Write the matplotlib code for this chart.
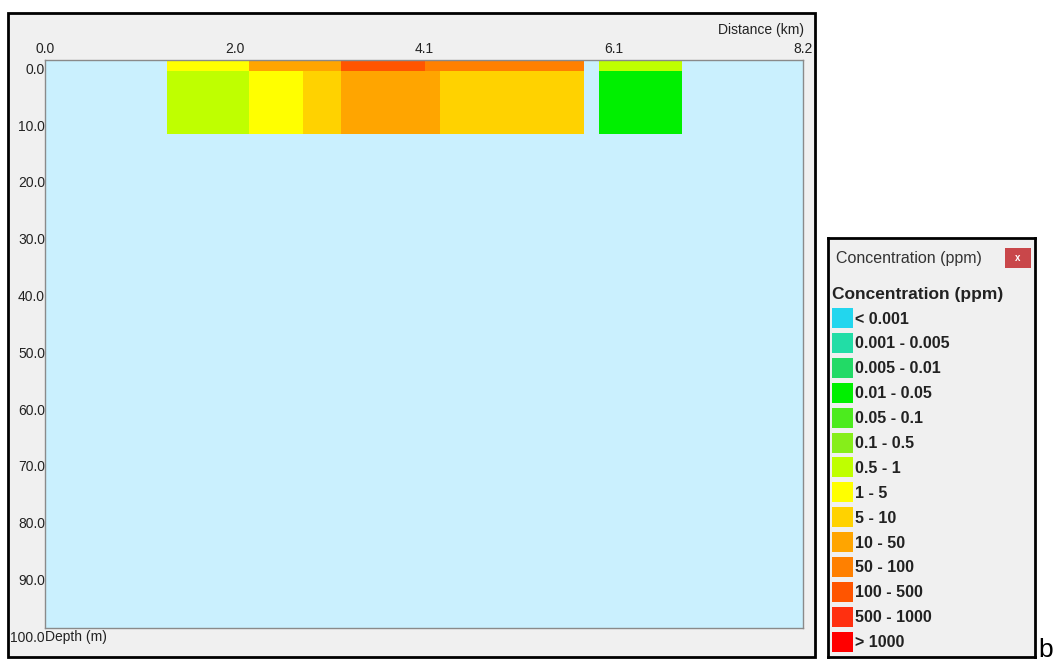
import matplotlib.pyplot as plt
from matplotlib.patches import Rectangle
import matplotlib.transforms as mtransforms

W, H = 1054, 662

# concentration classes (ppm) and colours
classes = ['< 0.001', '0.001 - 0.005', '0.005 - 0.01', '0.01 - 0.05',
           '0.05 - 0.1', '0.1 - 0.5', '0.5 - 1', '1 - 5', '5 - 10',
           '10 - 50', '50 - 100', '100 - 500', '500 - 1000', '> 1000']
class_colors = ['#22D6EE', '#22DDA6', '#22DA66', '#00F000', '#4CEB1E',
                '#86EE1A', '#BFFF00', '#FFFF00', '#FFD200', '#FFA500',
                '#FF8000', '#FF5500', '#FF3010', '#FF0000']

# plume cells: distance (km), depth (m), class index
cell_x0 = [1.32, 2.21, 3.20, 4.11, 5.99, 1.32, 2.21, 2.79, 3.20, 4.27, 5.99]
cell_x1 = [2.21, 3.20, 4.11, 5.83, 6.89, 2.21, 2.79, 3.20, 4.27, 5.83, 6.89]
cell_z0 = [0, 0, 0, 0, 0, 2, 2, 2, 2, 2, 2]
cell_z1 = [2, 2, 2, 2, 2, 13, 13, 13, 13, 13, 13]
cell_cls = [7, 9, 11, 10, 6, 6, 7, 8, 9, 8, 3]

dist_ticks = [0.0, 2.05, 4.1, 6.15, 8.2]
dist_labels = ['0.0', '2.0', '4.1', '6.1', '8.2']
depth_ticks = [0, 10, 20, 30, 40, 50, 60, 70, 80, 90, 100]

FONT = ['Liberation Sans', 'DejaVu Sans']


def px_rect(x0, y0, x1, y1):
    return [x0 / W, 1 - y1 / H, (x1 - x0) / W, (y1 - y0) / H]


def main():
    plt.close('all')
    plt.rcParams['font.family'] = FONT
    fig = plt.figure(figsize=(W / 100, H / 100), dpi=100)
    fig.patch.set_facecolor('white')

    # window frame around the section
    fig.patches.append(Rectangle((8 / W, 1 - 657 / H), 807 / W, 644 / H,
                                 transform=fig.transFigure, facecolor='#F0F0F0',
                                 edgecolor='black', lw=2, zorder=-5))

    ax = fig.add_axes(px_rect(45, 60, 803, 628))
    ax.set_zorder(2)
    ax.set_facecolor('#CAF0FE')
    widths = [b - a for a, b in zip(cell_x0, cell_x1)]
    heights = [b - a for a, b in zip(cell_z0, cell_z1)]
    ax.bar(cell_x0, heights, width=widths, bottom=cell_z0, align='edge',
           color=[class_colors[c] for c in cell_cls], lw=0)
    ax.set_xlim(0, 8.2)
    ax.set_ylim(100, 0)
    ax.xaxis.tick_top()
    ax.set_xticks(dist_ticks)
    ax.set_xticklabels(dist_labels)
    ax.set_yticks(depth_ticks)
    ax.set_yticklabels(['{:.1f}'.format(d) for d in depth_ticks])
    ax.tick_params(axis='x', length=0, pad=3, labelsize=10, colors='#222222')
    ax.tick_params(axis='y', length=0, pad=0, labelsize=10, colors='#222222')
    shift = mtransforms.ScaledTranslation(0, -2 / 72, fig.dpi_scale_trans)
    for lab in ax.get_yticklabels():
        lab.set_va('top')
        lab.set_transform(lab.get_transform() + shift)
    for sp in ax.spines.values():
        sp.set_color('#8A8A8A')
        sp.set_linewidth(1)

    fig.text(804 / W, 1 - 30 / H, 'Distance (km)', ha='right', va='center',
             fontsize=10, color='#222222')
    fig.text(45 / W, 1 - 637 / H, 'Depth (m)', ha='left', va='center',
             fontsize=10, color='#222222')

    # legend panel
    lg = fig.add_axes(px_rect(828, 238, 1035, 657))
    lg.set_zorder(2)
    lg.set_facecolor('#F0F0F0')
    lg.set_xlim(828, 1035)
    lg.set_ylim(657, 238)
    lg.set_xticks([])
    lg.set_yticks([])
    for sp in lg.spines.values():
        sp.set_color('black')
        sp.set_linewidth(2)
    lg.text(836, 259, 'Concentration (ppm)', ha='left', va='center',
            fontsize=11.5, color='#333333')
    lg.add_patch(Rectangle((1005, 248), 26, 20, facecolor='#C9474A',
                           edgecolor='none'))
    lg.text(1018, 258, 'x', ha='center', va='center', fontsize=7,
            color='white', fontweight='bold')
    lg.text(832, 294, 'Concentration (ppm)', ha='left', va='center',
            fontsize=12.5, fontweight='bold', color='#222222')
    centers = [318 + i * 24.9 for i in range(len(classes))]
    lg.barh(centers, 21, left=832, height=20, color=class_colors, lw=0)
    for yc, name in zip(centers, classes):
        lg.text(855, yc + 1, name, ha='left', va='center', fontsize=11.5,
                fontweight='bold', color='#222222')

    fig.text(1038 / W, 1 - 657 / H, 'b', ha='left', va='baseline',
             fontsize=19, color='black')

    plt.savefig('out.png', dpi=100)


if __name__ == "__main__":
    main()
